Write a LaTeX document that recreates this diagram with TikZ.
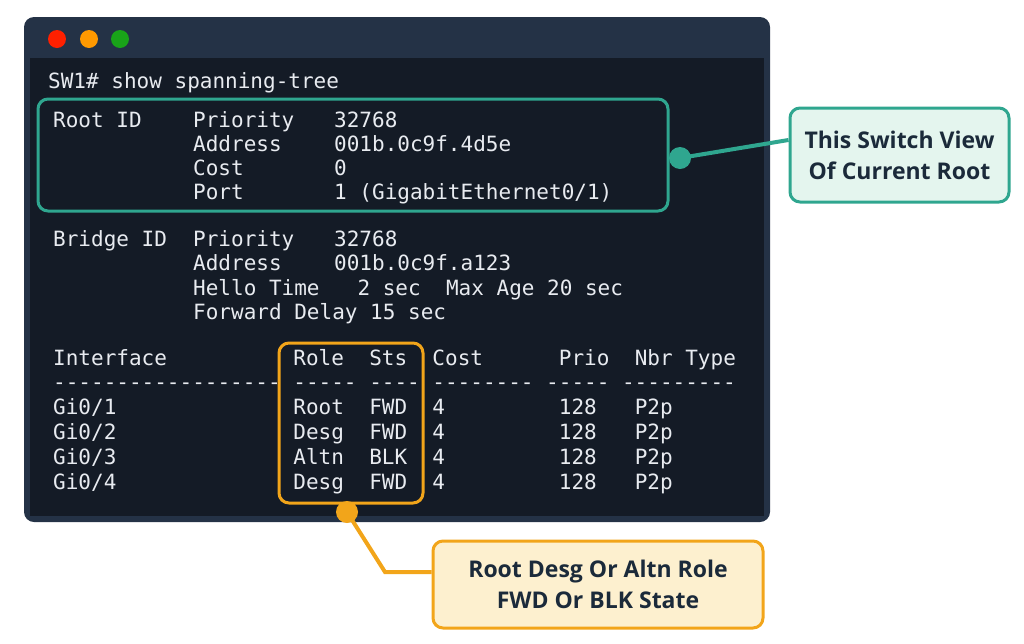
\documentclass[tikz,border=0pt]{standalone}
\usepackage{fontspec}
\setmainfont{Open Sans}
\newfontfamily\termfont{DejaVu Sans Mono}
\usetikzlibrary{positioning}
\definecolor{frameblue}{HTML}{243246}
\definecolor{termbg}{HTML}{141B26}
\definecolor{termtext}{HTML}{E8EBF0}
\definecolor{tealline}{HTML}{2FA68F}
\definecolor{tealfill}{HTML}{E4F5EE}
\definecolor{orangeline}{HTML}{F2A51A}
\definecolor{orangefill}{HTML}{FDF0CF}
\definecolor{calltext}{HTML}{1B2A3A}
\tikzset{
  term/.style={anchor=base west, inner sep=0pt, text=termtext, font=\termfont\fontsize{21}{24}\selectfont},
  callout/.style={draw, line width=3pt, rounded corners=10pt, align=center, text=calltext,
    font=\bfseries\fontsize{23}{31}\selectfont},
}
\begin{document}
\begin{tikzpicture}[x=1pt,y=-1pt]
    \useasboundingbox (0,0) rectangle (1024,643);
    % window
    \fill[frameblue, rounded corners=10pt] (24,17) rectangle (770,522);
    \fill[termbg] (30,58) rectangle (764,516);
    \fill[red!75!orange] (57,39) circle (9);
    \fill[orange!80!yellow] (89,39) circle (9);
    \fill[green!60!black!90] (120,39) circle (9);
    % terminal text
    \node[term] (cmd) at (48,88) {SW1\#~show~spanning-tree};
    \node[term] (rootid) at (53,127) {Root~ID};
    \node[term] (rprio) at (193,127) {Priority};
    \node[term] (rprioval) at (334,127) {32768};
    \node[term] (raddr) at (193,151) {Address};
    \node[term] (raddrval) at (334,151) {001b.0c9f.4d5e};
    \node[term] (rcost) at (193,175) {Cost};
    \node[term] (rcostval) at (334,175) {0};
    \node[term] (rport) at (193,199) {Port};
    \node[term] (rportval) at (334,199) {1~(GigabitEthernet0/1)};
    %
    \node[term] (bridgeid) at (53,246) {Bridge~ID};
    \node[term] (bprio) at (193,246) {Priority};
    \node[term] (bprioval) at (334,246) {32768};
    \node[term] (baddr) at (193,270) {Address};
    \node[term] (baddrval) at (334,270) {001b.0c9f.a123};
    \node[term] (hello) at (193,295) {Hello~Time~~~2~sec~~Max~Age~20~sec};
    \node[term] (fwd) at (193,319) {Forward~Delay~15~sec};
    %
    \node[term] (hdr) at (53,365) {Interface~~~~~~~~~~Role~~Sts~~Cost~~~~~~Prio~~Nbr~Type};
    \node[term] (dash) at (53,389) {------------------~-----~----~--------~-----~---------};
    \node[term] (row1) at (53,414) {Gi0/1~~~~~~~~~~~~~~Root~~FWD~~4~~~~~~~~~128~~~P2p};
    \node[term] (row2) at (53,439) {Gi0/2~~~~~~~~~~~~~~Desg~~FWD~~4~~~~~~~~~128~~~P2p};
    \node[term] (row3) at (53,464) {Gi0/3~~~~~~~~~~~~~~Altn~~BLK~~4~~~~~~~~~128~~~P2p};
    \node[term] (row4) at (53,489) {Gi0/4~~~~~~~~~~~~~~Desg~~FWD~~4~~~~~~~~~128~~~P2p};
    % highlights
    \draw[tealline, line width=3pt, rounded corners=10pt] (38,99) rectangle (668,211);
    \draw[orangeline, line width=3pt, rounded corners=10pt] (279,343) rectangle (423,503);
    % callouts
    \node[callout, draw=tealline, fill=tealfill, minimum width=219pt, minimum height=94pt] (rootnote) at (899.5,155) {This Switch View\\Of Current Root};
    \node[callout, draw=orangeline, fill=orangefill, minimum width=330pt, minimum height=87pt] (rolenote) at (598,584.5) {Root Desg Or Altn Role\\FWD Or BLK State};
    \coordinate (tealdot) at (680,158);
    \coordinate (orangedot) at (347,512);
    \coordinate (bend) at (385,572);
    \draw[tealline, line width=4pt] (tealdot) -- (rootnote.west |- 0,140);
    \fill[tealline] (tealdot) circle (11);
    \draw[orangeline, line width=4pt] (orangedot) -- (bend) -- (rolenote.west |- bend);
    \fill[orangeline] (orangedot) circle (11);
\end{tikzpicture}
\end{document}
